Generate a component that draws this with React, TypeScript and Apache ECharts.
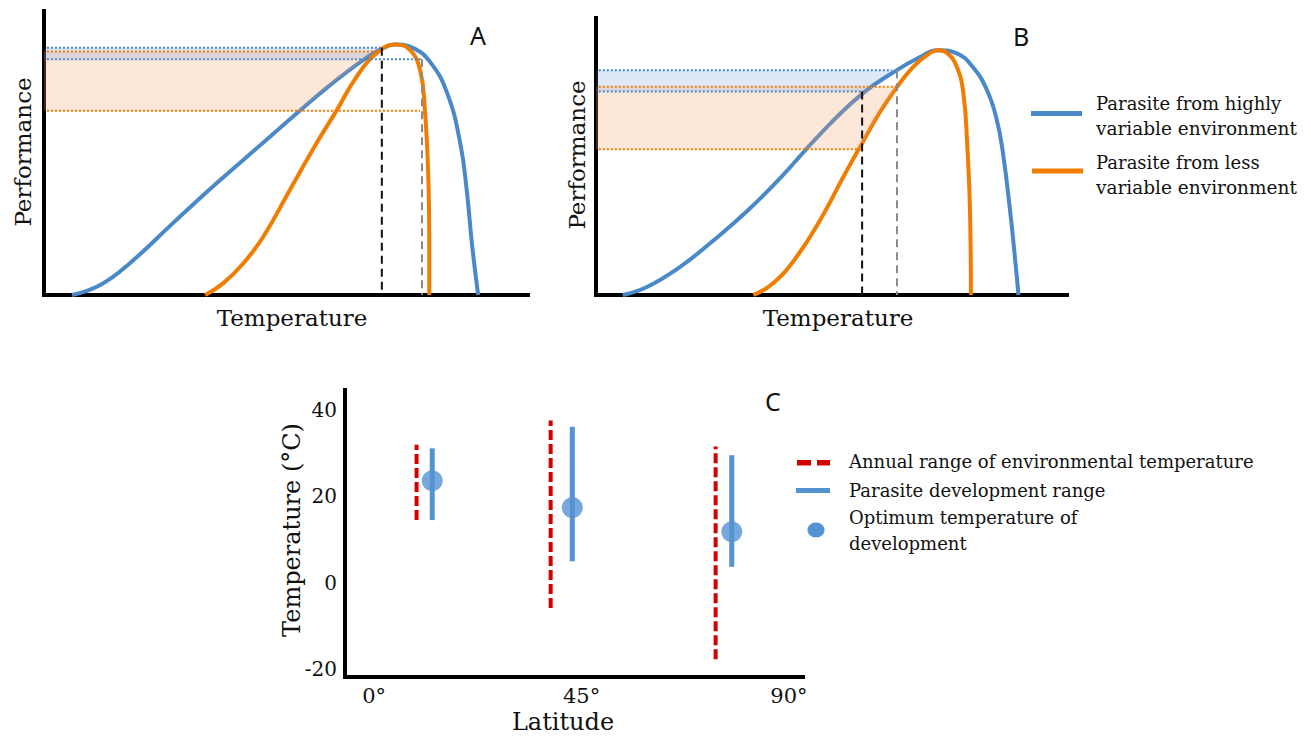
import React, { useEffect, useRef } from "react";
import * as echarts from "echarts";

// ---------- Panel A (x: temperature along axis 0-100, y: performance 0-100)
const curveABlue = [[5.8,0],[11.6,3.5],[17.8,11.3],[26.7,25.4],[35.7,39.4],[45.2,53.5],[52.3,64.1],[59.1,73.9],[65.9,82.7],[69.4,86.3],[72.5,88.2],[76.2,87.0],[79.8,82.0],[83.3,71.1],[86.0,53.5],[87.4,35.9],[88.4,18.3],[89.7,0]];
const curveAOrange = [[33.3,0],[37.0,4.1],[41.2,11.2],[45.3,20.5],[50.8,37.0],[56.3,53.4],[60.5,65.1],[64.6,76.9],[68.7,85.1],[72.5,88.2],[75.6,86.3],[77.7,79.2],[78.7,65.1],[79.4,41.7],[79.6,18.2],[79.6,0]];
const fillAOrange = [[0,64.9],[52.8,64.9],[59.1,73.9],[65.9,82.7],[68.7,85.7],[0,85.7]];
const fillABlue = [[0,83.0],[66.0,83.0],[69.4,86.3],[70.2,87.1],[0,87.1]];
const dottedABlue = [[70.0,87.1],[78.1,83.0]]; // [x end, y]
const dottedAOrange = [[68.7,85.7],[77.7,64.9]];
const dashedABlack = [[69.8,87.1]]; // [x, y top]
const dashedAGrey = [[78.1,83.0]];

// ---------- Panel B
const curveBBlue = [[5.7,0],[10.8,2.9],[17.8,10.1],[24.8,19.5],[32.1,30.3],[39.1,42.2],[47.6,58.1],[56.5,72.6],[63.9,81.2],[68.8,85.9],[72.4,88.4],[76.6,87.2],[80.0,82.3],[83.0,74.0],[85.1,63.2],[86.4,51.3],[87.9,30.7],[89.0,12.6],[89.7,0]];
const curveBOrange = [[33.4,0],[37.6,4.2],[42.6,13.8],[47.6,27.1],[52.5,42.6],[56.5,54.8],[60.3,66.1],[63.9,75.1],[67.3,82.3],[70.3,86.6],[72.4,88.4],[74.5,87.4],[76.6,82.4],[78.0,72.8],[78.8,54.8],[79.4,30.7],[79.6,0]];
const fillBBlue = [[0,73.5],[57.3,73.5],[63.8,81.1],[0,81.1]];
const fillBOrange = [[0,52.6],[55.9,52.6],[60.3,66.1],[63.9,75.2],[0,75.2]];
const dottedBBlue = [[62.8,81.1],[56.4,73.5]];
const dottedBOrange = [[63.8,75.2],[56.4,52.6]];
const dashedBBlack = [[56.5,73.5]];
const dashedBGrey = [[63.9,81.1]];

// ---------- Panel C
const latTicks = [0, 45, 90];
const tempTicks = [-20, 0, 20, 40];
const envLat = [9.2, 38.3, 74.1];
const envLow = [14.5, -5.8, -17.7];
const envHigh = [31.9, 37.5, 31.5];
const devLat = [12.6, 43.0, 77.6];
const devLow = [14.5, 5.0, 3.7];
const devHigh = [31.1, 36.1, 29.5];
const optimum = [23.6, 17.4, 11.8];

const SERIF = '"DejaVu Serif", serif';
const SANS = '"Noto Sans", "Open Sans", sans-serif';
const BLUE = "#4a89c8";
const ORANGE = "#f07d00";
const CBLUE = "#5592d2";
const RED = "#d40000";
const INK = "#111";

const empty = { type: "group", children: [] };

function polygonSeries(points: number[][], idx: number, color: string) {
  return {
    type: "custom", xAxisIndex: idx, yAxisIndex: idx, z: 5, silent: true,
    data: points,
    renderItem: (params: any, api: any) => {
      if (params.dataIndex !== 0) return empty;
      return { type: "polygon", shape: { points: points.map((p) => api.coord(p)) }, style: { fill: color } };
    },
  };
}
function hlineSeries(rows: number[][], idx: number, color: string) {
  return {
    type: "custom", xAxisIndex: idx, yAxisIndex: idx, z: 6, silent: true,
    data: rows,
    renderItem: (params: any, api: any) => {
      const p1 = api.coord([0.6, api.value(1)]);
      const p2 = api.coord([api.value(0), api.value(1)]);
      return { type: "line", shape: { x1: p1[0], y1: p1[1], x2: p2[0], y2: p2[1] }, style: { stroke: color, lineWidth: 2, lineDash: [2, 2] } };
    },
  };
}
function vlineSeries(rows: number[][], idx: number, color: string) {
  return {
    type: "custom", xAxisIndex: idx, yAxisIndex: idx, z: 6, silent: true,
    data: rows,
    renderItem: (params: any, api: any) => {
      const p1 = api.coord([api.value(0), api.value(1)]);
      const p2 = api.coord([api.value(0), 0]);
      return { type: "line", shape: { x1: p1[0], y1: p1[1], x2: p2[0], y2: p2[1] }, style: { stroke: color, lineWidth: 2, lineDash: [8, 5] } };
    },
  };
}
function curveSeries(points: number[][], idx: number, color: string) {
  return {
    type: "line", xAxisIndex: idx, yAxisIndex: idx, z: 4, data: points,
    smooth: 0.45, showSymbol: false, symbol: "none",
    lineStyle: { color, width: 4 },
  };
}
function rangeSeries(lat: number[], lo: number[], hi: number[], color: string, width: number, dash: any) {
  return {
    type: "custom", xAxisIndex: 2, yAxisIndex: 2, z: 4, silent: true,
    data: lat.map((x, i) => [x, lo[i], hi[i]]),
    renderItem: (params: any, api: any) => {
      const p1 = api.coord([api.value(0), api.value(1)]);
      const p2 = api.coord([api.value(0), api.value(2)]);
      return { type: "line", shape: { x1: p1[0], y1: p1[1], x2: p2[0], y2: p2[1] }, style: { stroke: color, lineWidth: width, lineDash: dash } };
    },
  };
}

const plainAxis = (min: number, max: number, gridIndex: number) => ({
  type: "value", gridIndex, min, max,
  axisLine: { show: true, onZero: false, lineStyle: { color: "#000", width: 4, cap: "square" } },
  axisTick: { show: false }, axisLabel: { show: false }, splitLine: { show: false },
});

function txt(text: string, x: number, y: number, size: number, family = SERIF, opts: any = {}) {
  return {
    type: "text", x, y, rotation: opts.rotation || 0, silent: true,
    style: { text, font: `${size}px ${family}`, fill: INK, textAlign: opts.align || "center", textVerticalAlign: "middle" },
  };
}

export default function App() {
  const ref = useRef<HTMLDivElement>(null);
  useEffect(() => {
    if (!ref.current) return;
    const chart = echarts.init(ref.current, undefined, { renderer: "svg" });
    const option: any = {
      animation: false,
      backgroundColor: "#fff",
      grid: [
        { left: 44, top: 11, width: 484, height: 284 },
        { left: 596, top: 18, width: 471, height: 277 },
        { left: 345, top: 390, width: 458, height: 286.5 },
      ],
      xAxis: [
        plainAxis(0, 100, 0),
        plainAxis(0, 100, 1),
        {
          ...plainAxis(-6.33, 93.06, 2),
          axisLabel: { show: true, customValues: latTicks, formatter: (v: number) => `${v}°`, fontSize: 21, fontFamily: SERIF, color: INK, margin: 9 },
        },
      ],
      yAxis: [
        plainAxis(0, 100, 0),
        plainAxis(0, 100, 1),
        {
          ...plainAxis(-21.66, 44.58, 2),
          axisLabel: { show: true, customValues: tempTicks, fontSize: 20, fontFamily: SERIF, color: INK, margin: 8 },
        },
      ],
      series: [
        curveSeries(curveABlue, 0, BLUE),
        curveSeries(curveAOrange, 0, ORANGE),
        polygonSeries(fillAOrange, 0, "rgba(248,160,100,0.25)"),
        polygonSeries(fillABlue, 0, "rgba(70,130,210,0.18)"),
        hlineSeries(dottedABlue, 0, BLUE),
        hlineSeries(dottedAOrange, 0, ORANGE),
        vlineSeries(dashedABlack, 0, INK),
        vlineSeries(dashedAGrey, 0, "#8a8a8a"),

        curveSeries(curveBBlue, 1, BLUE),
        curveSeries(curveBOrange, 1, ORANGE),
        polygonSeries(fillBOrange, 1, "rgba(248,160,100,0.25)"),
        polygonSeries(fillBBlue, 1, "rgba(70,130,210,0.18)"),
        hlineSeries(dottedBBlue, 1, BLUE),
        hlineSeries(dottedBOrange, 1, ORANGE),
        vlineSeries(dashedBBlack, 1, INK),
        vlineSeries(dashedBGrey, 1, "#8a8a8a"),

        rangeSeries(envLat, envLow, envHigh, RED, 4, [10, 4]),
        rangeSeries(devLat, devLow, devHigh, CBLUE, 5, null),
        {
          type: "scatter", xAxisIndex: 2, yAxisIndex: 2, z: 5, symbolSize: 21,
          itemStyle: { color: CBLUE }, data: devLat.map((x, i) => [x, optimum[i]]),
        },
      ],
      graphic: [
        txt("A", 478, 35, 25, SANS),
        txt("B", 1021, 36, 25, SANS),
        txt("C", 773, 401, 25, SANS),
        txt("Temperature", 292, 318, 23),
        txt("Temperature", 838, 318, 23),
        txt("Performance", 23, 152, 23, SERIF, { rotation: Math.PI / 2 }),
        txt("Performance", 577, 155, 23, SERIF, { rotation: Math.PI / 2 }),
        txt("Temperature (°C)", 292, 530, 24, SERIF, { rotation: Math.PI / 2 }),
        txt("Latitude", 563, 722, 24),
        // legend A/B
        { type: "rect", shape: { x: 1031, y: 111, width: 51, height: 5 }, style: { fill: BLUE }, silent: true },
        { type: "rect", shape: { x: 1032, y: 168.5, width: 51, height: 5 }, style: { fill: ORANGE }, silent: true },
        txt("Parasite from highly", 1096, 103, 18, SERIF, { align: "left" }),
        txt("variable environment", 1096, 128, 18.5, SERIF, { align: "left" }),
        txt("Parasite from less", 1096, 162, 18, SERIF, { align: "left" }),
        txt("variable environment", 1096, 187, 18.5, SERIF, { align: "left" }),
        // legend C
        { type: "rect", shape: { x: 797, y: 460, width: 14, height: 5.5 }, style: { fill: RED }, silent: true },
        { type: "rect", shape: { x: 817, y: 460, width: 13, height: 5.5 }, style: { fill: RED }, silent: true },
        { type: "rect", shape: { x: 796, y: 488, width: 34, height: 5 }, style: { fill: CBLUE }, silent: true },
        { type: "ellipse", shape: { cx: 816, cy: 530, rx: 8.5, ry: 7.5 }, style: { fill: CBLUE }, silent: true },
        txt("Annual range of environmental temperature", 849, 461, 18, SERIF, { align: "left" }),
        txt("Parasite development range", 849, 490, 18, SERIF, { align: "left" }),
        txt("Optimum temperature of", 849, 517, 18, SERIF, { align: "left" }),
        txt("development", 849, 543, 18, SERIF, { align: "left" }),
      ],
    };
    chart.setOption(option);
    return () => chart.dispose();
  }, []);
  return <div ref={ref} style={{ position: "absolute", left: 0, top: 0, width: 1311, height: 740 }} />;
}
